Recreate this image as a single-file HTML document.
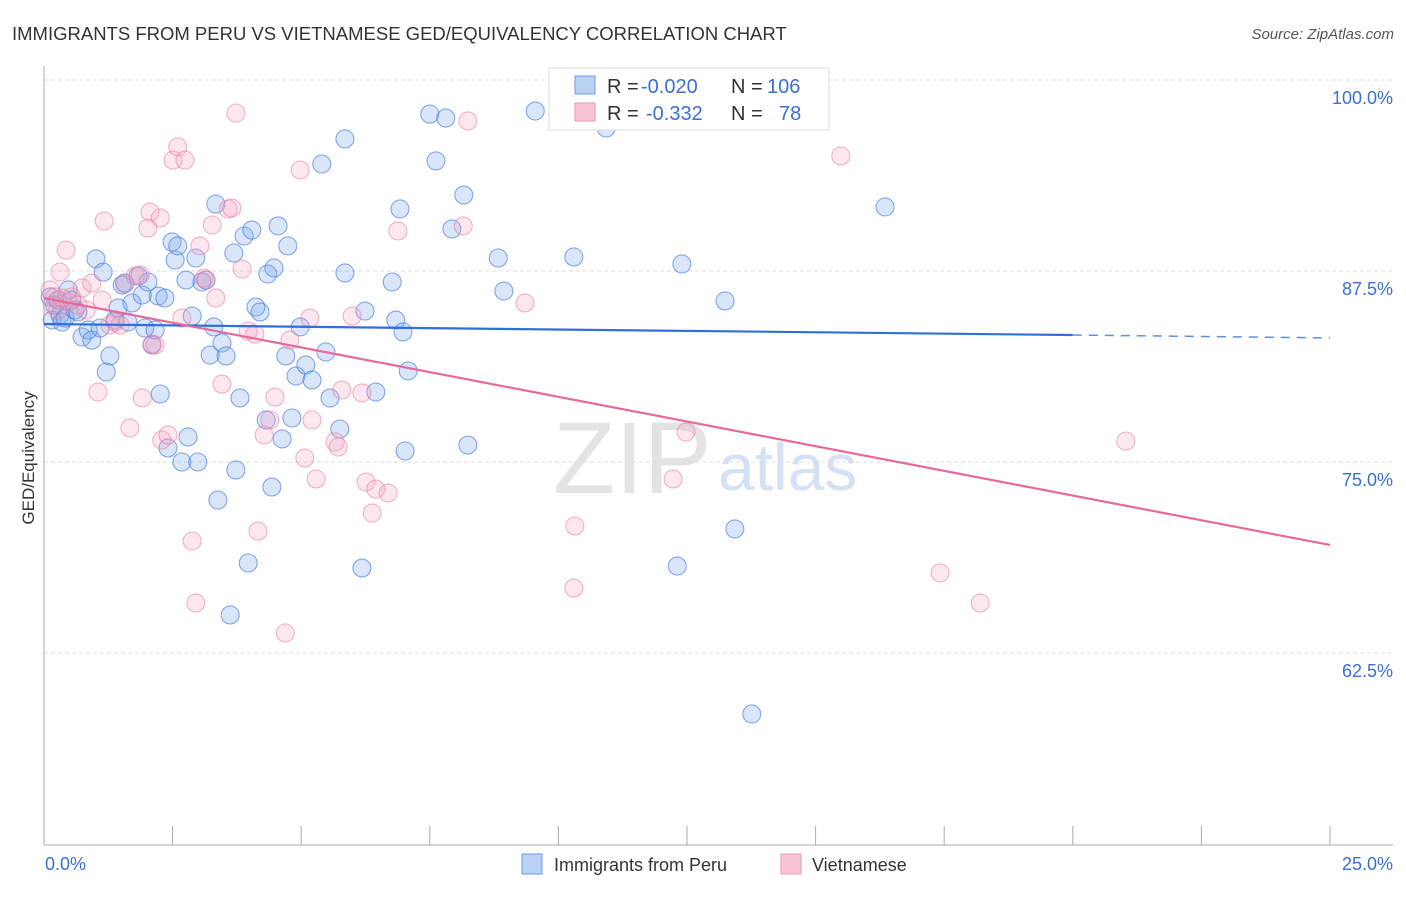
<!DOCTYPE html>
<html><head><meta charset="utf-8"><style>
body{margin:0;background:#fff;font-family:"Liberation Sans",sans-serif}
svg text{font-family:"Liberation Sans",sans-serif}
</style></head><body>
<svg id="chart" width="1406" height="892" viewBox="0 0 1406 892" xmlns="http://www.w3.org/2000/svg">
<text x="12" y="40" font-size="18.5" fill="#333">IMMIGRANTS FROM PERU VS VIETNAMESE GED/EQUIVALENCY CORRELATION CHART</text>
<text x="1394" y="39" font-size="15" fill="#555" font-style="italic" text-anchor="end">Source: ZipAtlas.com</text>
<text x="553" y="493" font-size="102" font-family="Liberation Serif" fill="#d8d8d8" opacity="0.7">ZIP</text>
<text x="718" y="490" font-size="66" fill="#b8cdee" opacity="0.6">atlas</text>
<g id="grid"></g><g id="axes"></g><g id="pts"></g><g id="trend"></g>
<text transform="translate(34,458) rotate(-90)" font-size="17" fill="#333" text-anchor="middle">GED/Equivalency</text>
<text x="45" y="870" font-size="18" fill="#3b6fd4">0.0%</text>
<text x="1393" y="870" font-size="18" fill="#3b6fd4" text-anchor="end">25.0%</text>
<g>
<rect x="549" y="68" width="280" height="62" fill="#fff" stroke="#ddd"/>
<rect x="575" y="76" width="20" height="18" fill="#b9d1f5" stroke="#6d9ae6"/>
<rect x="575" y="103" width="20" height="18" fill="#f9c4d4" stroke="#ec93b2"/>
<text x="607" y="93" font-size="20" fill="#333">R =</text>
<text x="641" y="93" font-size="20" fill="#3b6fd4">-0.020</text>
<text x="731" y="93" font-size="20" fill="#333">N =</text>
<text x="767" y="93" font-size="20" fill="#3b6fd4">106</text>
<text x="607" y="120" font-size="20" fill="#333">R =</text>
<text x="646" y="120" font-size="20" fill="#3b6fd4">-0.332</text>
<text x="731" y="120" font-size="20" fill="#333">N =</text>
<text x="779" y="120" font-size="20" fill="#3b6fd4">78</text>
</g>
<g>
<rect x="522" y="854" width="20" height="20" fill="#b9d1f5" stroke="#6d9ae6"/>
<text x="554" y="871" font-size="18" fill="#333">Immigrants from Peru</text>
<rect x="781" y="854" width="20" height="20" fill="#f9c4d4" stroke="#ec93b2"/>
<text x="812" y="871" font-size="18" fill="#333">Vietnamese</text>
</g>
</svg>
<script>
const yTicks=[100,87.5,75,62.5];
const yTickLabels=["100.0%","87.5%","75.0%","62.5%"];
const xTicks=[0,2.5,5,7.5,10,12.5,15,17.5,20,22.5,25];
const peruX=[0.12,0.16,0.21,0.27,0.31,0.35,0.41,0.47,0.54,0.60,0.66,0.74,0.86,0.93,1.01,1.09,1.15,1.21,1.28,1.38,1.44,1.52,1.57,1.63,1.71,1.83,1.91,1.96,2.02,2.10,2.16,2.22,2.26,2.35,2.41,2.49,2.55,2.60,2.68,2.76,2.80,2.88,2.95,2.99,3.07,3.15,3.23,3.30,3.34,3.38,3.46,3.54,3.62,3.69,3.73,3.81,3.89,3.97,4.04,4.12,4.20,4.32,4.35,4.43,4.47,4.55,4.63,4.70,4.74,4.82,4.90,4.98,5.09,5.21,5.40,5.48,5.56,5.75,5.85,5.85,6.18,6.24,6.45,6.77,6.84,6.92,6.98,7.02,7.08,7.50,7.62,7.81,7.93,8.16,8.24,8.83,8.94,9.55,10.30,10.93,12.31,12.40,13.24,13.43,13.76,16.35];
const peruY=[85.80,84.29,85.27,85.60,84.62,84.16,84.42,86.26,85.60,84.95,84.82,83.18,83.64,82.98,88.29,83.77,87.43,80.89,81.94,84.29,85.08,86.58,86.71,84.16,85.41,87.17,85.93,83.77,86.78,82.66,83.64,85.86,79.45,85.73,75.92,89.40,88.22,89.14,75.00,86.91,76.64,84.55,88.35,75.00,86.78,86.91,82.00,83.84,91.88,72.51,82.79,81.94,64.99,88.68,74.48,79.19,89.79,68.39,90.18,85.14,84.82,77.75,87.30,73.36,87.70,90.45,76.51,81.94,89.14,77.88,80.63,83.84,81.35,80.37,94.50,82.20,79.19,77.16,96.14,87.37,68.06,84.88,79.58,86.78,84.29,91.56,83.51,75.72,80.96,97.77,94.70,97.51,90.25,92.47,76.11,88.35,86.19,97.97,88.42,96.86,68.19,87.96,85.54,70.62,58.51,91.69];
const vietX=[0.12,0.16,0.21,0.27,0.31,0.35,0.43,0.47,0.54,0.66,0.74,0.82,0.93,1.05,1.13,1.17,1.28,1.38,1.48,1.57,1.67,1.77,1.87,1.91,2.02,2.06,2.10,2.16,2.26,2.29,2.41,2.51,2.60,2.68,2.74,2.88,2.95,3.03,3.11,3.15,3.27,3.34,3.46,3.58,3.65,3.73,3.85,3.97,4.10,4.16,4.28,4.39,4.49,4.69,4.78,4.98,5.07,5.17,5.21,5.29,5.66,5.72,5.79,5.99,6.18,6.26,6.38,6.45,6.69,6.88,8.15,8.24,9.35,9.99,10.32,10.30,12.23,12.48,15.49,17.42,18.20,21.03];
const vietY=[86.26,85.27,85.80,84.95,87.43,85.73,88.87,85.47,85.80,85.27,86.39,84.95,86.71,79.58,85.60,90.77,83.97,84.16,83.97,86.65,77.23,87.17,87.24,79.19,90.31,91.36,82.72,82.66,90.97,76.44,76.77,94.76,95.62,84.42,94.76,69.83,65.77,89.14,87.04,86.91,90.51,85.73,80.10,91.56,91.62,97.84,87.63,83.57,83.38,70.48,76.77,77.75,79.25,63.81,82.98,94.11,75.26,84.42,77.75,73.89,76.31,75.98,79.71,84.55,79.52,73.69,71.66,73.23,72.97,90.12,90.45,97.32,85.41,97.71,70.81,66.75,73.89,76.96,95.03,67.74,65.77,76.37];
const peruTrend=[84.03,83.31,83.12];
const vietTrend=[85.73,69.57];
const trendX=[0,20,25];

const NS="http://www.w3.org/2000/svg";
const X=v=>44+v*(1330-44)/25;
const Y=v=>80+(100-v)*(653-80)/37.5;
function mk(parent,tag,attrs){const e=document.createElementNS(NS,tag);for(const k in attrs)e.setAttribute(k,attrs[k]);document.getElementById(parent).appendChild(e);return e;}
yTicks.forEach((t,i)=>{
  const l=mk('grid','line',{x1:44,x2:1393,y1:Y(t),y2:Y(t),stroke:'#ddd','stroke-dasharray':'4,3'});
  
  
  const tx=mk('grid','text',{x:1393,y:Y(t)+24,'font-size':18,fill:'#3b6fd4','text-anchor':'end'});
  tx.textContent=yTickLabels[i];
  
  
});
const ya=mk('axes','line',{x1:44,x2:44,y1:66,y2:845,stroke:'#aaa'});


const xa=mk('axes','line',{x1:44,x2:1393,y1:845,y2:845,stroke:'#aaa'});


xTicks.forEach(t=>{
  const l=mk('axes','line',{x1:X(t),x2:X(t),y1:826,y2:845,stroke:'#aaa'});
  
  
});
function pts(xs,ys,fill,stroke,name){
  xs.forEach((x,i)=>{
    const c=mk('pts','circle',{cx:X(x),cy:Y(ys[i]),r:9,fill:fill,stroke:stroke,'stroke-width':1.1});
    
    
  });
}
pts(peruX,peruY,'rgba(120,165,235,0.28)','rgba(70,125,220,0.65)','peru-point');
pts(vietX,vietY,'rgba(245,160,190,0.25)','rgba(232,130,165,0.6)','vietnamese-point');
const t1=mk('trend','line',{x1:X(trendX[0]),y1:Y(peruTrend[0]),x2:X(trendX[1]),y2:Y(peruTrend[1]),stroke:'#2f6fd6','stroke-width':2.2});


const t2=mk('trend','line',{x1:X(trendX[1]),y1:Y(peruTrend[1]),x2:X(trendX[2]),y2:Y(peruTrend[2]),stroke:'#5b8fe0','stroke-width':1.5,'stroke-dasharray':'9,7'});


const t3=mk('trend','line',{x1:X(trendX[0]),y1:Y(vietTrend[0]),x2:X(trendX[2]),y2:Y(vietTrend[1]),stroke:'#e5699a','stroke-width':2.2});


</script>
</body></html>
